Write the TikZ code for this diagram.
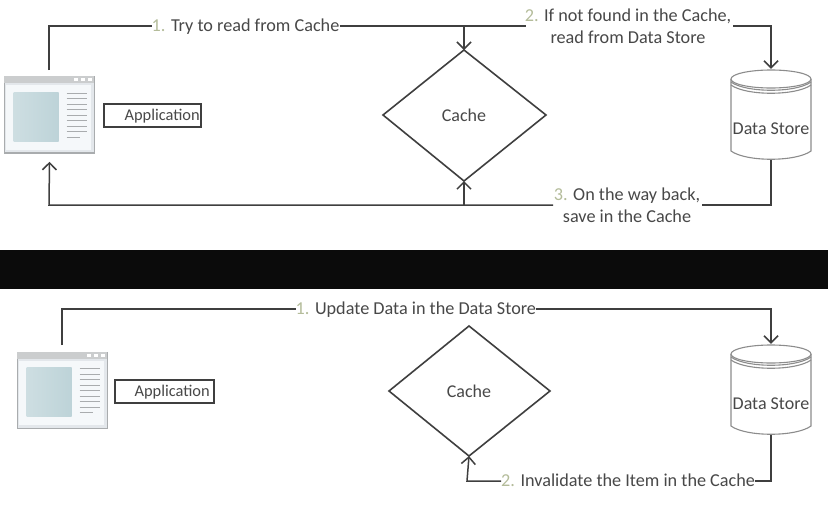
\documentclass[tikz,border=0pt]{standalone}
\usepackage{fontspec}
\setmainfont{Carlito}
\usetikzlibrary{arrows.meta,calc}
\definecolor{ink}{HTML}{3F3F3F}
\definecolor{txt}{HTML}{484848}
\definecolor{num}{HTML}{B4BC9A}
\definecolor{winb}{HTML}{A9ACAE}
\definecolor{winf}{HTML}{E3E7EB}
\definecolor{winin}{HTML}{F5F8FA}
\definecolor{pane}{HTML}{BDD3D8}
\definecolor{band}{HTML}{0B0B0B}
\tikzset{
  conn/.style={draw=ink,line width=1.5pt},
  arr/.style={conn,-{Straight Barb[length=7pt,width=14pt,line width=1.5pt]}},
  diam/.style={draw=ink,line width=1.6pt,fill=white},
  lab/.style={text=txt,font=\fontsize{18.2}{22}\selectfont,align=center,inner sep=0pt},
  onelab/.style={lab,anchor=west,text height=14pt,text depth=3pt},
  nodetxt/.style={text=txt,font=\fontsize{18}{22}\selectfont,inner sep=0pt},
  appbox/.style={draw=ink,line width=1.5pt,text=txt,font=\fontsize{16.4}{20}\selectfont,anchor=west,align=right,inner sep=0pt,text height=12pt,text depth=3pt},
  winnode/.style={draw=winb,fill=winf,line width=1.6pt,inner sep=0pt,minimum width=90pt,minimum height=76pt},
  stnode/.style={inner sep=0pt,minimum width=80pt,minimum height=90pt}
}
% application window drawn inside a named node
\newcommand{\appwin}[3]{%
  \node[winnode] (#1) at (#2,#3) {};
  \begin{scope}[shift={(#1.north west)}]
    \fill[winb!60] (0,0) rectangle (90,7);
    \fill[winin] (2.5,9) rectangle (87.5,73.5);
    \shade[left color=pane!75,right color=pane] (10,16) rectangle (55,65);
    \foreach \d in {0,1,2}{\fill[white] (70+\d*7,2) rectangle ++(4,3);}
    \foreach \yy in {17,22.5,28,33.5,39,44.5,50,55.5}{\draw[winb,line width=.9pt] (63,\yy) -- (83,\yy);}
    \draw[winb,line width=.9pt] (63,61) -- (76,61);
  \end{scope}}
% data store: a named node with the cylinder round it and its text below the centre
\newcommand{\datastore}[3]{%
  \node[stnode] (#1) at (#2,#3) {};
  \begin{scope}[shift={(#1.center)},draw=black!45,line width=1.1pt]
    \draw[fill=white] (-40,-36) -- (-40,36) .. controls (-25,47) and (25,47) .. (40,36) -- (40,-36);
    \draw (-40,-30) .. controls (-25,-19) and (25,-19) .. (40,-30);
    \draw (-40,-33) .. controls (-25,-22) and (25,-22) .. (40,-33);
    \draw[fill=white] (0,-36) ellipse (40 and 9);
  \end{scope}
  \node[nodetxt] (#1t) at (#2,#3+14) {Data Store};}
\begin{document}
\begin{tikzpicture}[x=1pt,y=-1pt]
\useasboundingbox (0,0) rectangle (828,507);
\fill[white] (0,0) rectangle (828,507);
\fill[band] (0,250) rectangle (828,289);

% ---- top panel
\appwin{appA}{49.5}{115}
\node[appbox,text width=97pt,minimum height=23pt] (appLabA) at (103,115.5) {Application\hspace*{1pt}};
\draw[diam] (464,50) coordinate (cacheAtop) -- (546,115) -- (464,181) coordinate (cacheAbot) -- (383,115) -- cycle;
\node[nodetxt] (cacheA) at (464,115) {Cache};
\datastore{storeA}{771}{115}

\node[onelab] (a1) at (151.5,26) {\textcolor{num}{1.} Try to read from Cache};
\node[lab] (a2) at (628,26.5) {\textcolor{num}{2.} If not found in the Cache,\\read from Data Store};
\node[lab] (a3) at (627,205) {\textcolor{num}{3.} On the way back,\\save in the Cache};

\coordinate (a1s) at (49,70);
\coordinate (a1c) at (49,26);
\coordinate (j1) at (464,26);
\coordinate (a2l) at (526,26);
\coordinate (a2r) at (733,26);
\coordinate (a2c) at (771,26);
\draw[conn] (a1s) -- (a1c) -- (a1.west);
\draw[conn] (a1.east) -- (a2l);
\draw[arr] (j1) -- (cacheAtop);
\draw[arr] (a2r) -- (a2c) -- ($(storeA.north)+(0,-1)$);

\coordinate (a3r) at (702,205);
\coordinate (a3c) at (771,205);
\coordinate (a3l) at (553,205);
\coordinate (a3e) at (49,205);
\coordinate (j3) at (464,205);
\draw[conn] (771,160) -- (a3c) -- (a3r);
\draw[arr] (a3l) -- (a3e) -- ($(appA.south)+(0,8)$);
\draw[arr] (j3) -- (cacheAbot);

% ---- bottom panel
\appwin{appB}{62.5}{390.5}
\node[appbox,text width=99pt,minimum height=23pt] (appLabB) at (114,391.5) {Application\hspace*{4pt}};
\draw[diam] (469,326) coordinate (cacheBtop) -- (550,391) -- (469,456) coordinate (cacheBbot) -- (389,391) -- cycle;
\node[nodetxt] (cacheB) at (469,391) {Cache};
\datastore{storeB}{771}{390}

\node[onelab] (b1) at (295.5,309) {\textcolor{num}{1.} Update Data in the Data Store};
\node[onelab] (b2) at (501,481) {\textcolor{num}{2.} Invalidate the Item in the Cache};

\coordinate (b1s) at (62,345);
\coordinate (b1c) at (62,309);
\coordinate (b1r) at (771,309);
\draw[conn] (b1s) -- (b1c) -- (b1.west);
\draw[arr] (b1.east) -- (b1r) -- ($(storeB.north)+(0,-1)$);

\coordinate (b2c) at (771,481);
\coordinate (b2l) at (467,481);
\draw[conn] (771,435) -- (b2c) -- (b2.east);
\draw[arr] (b2.west) -- (b2l) -- (cacheBbot);
\end{tikzpicture}
\end{document}
